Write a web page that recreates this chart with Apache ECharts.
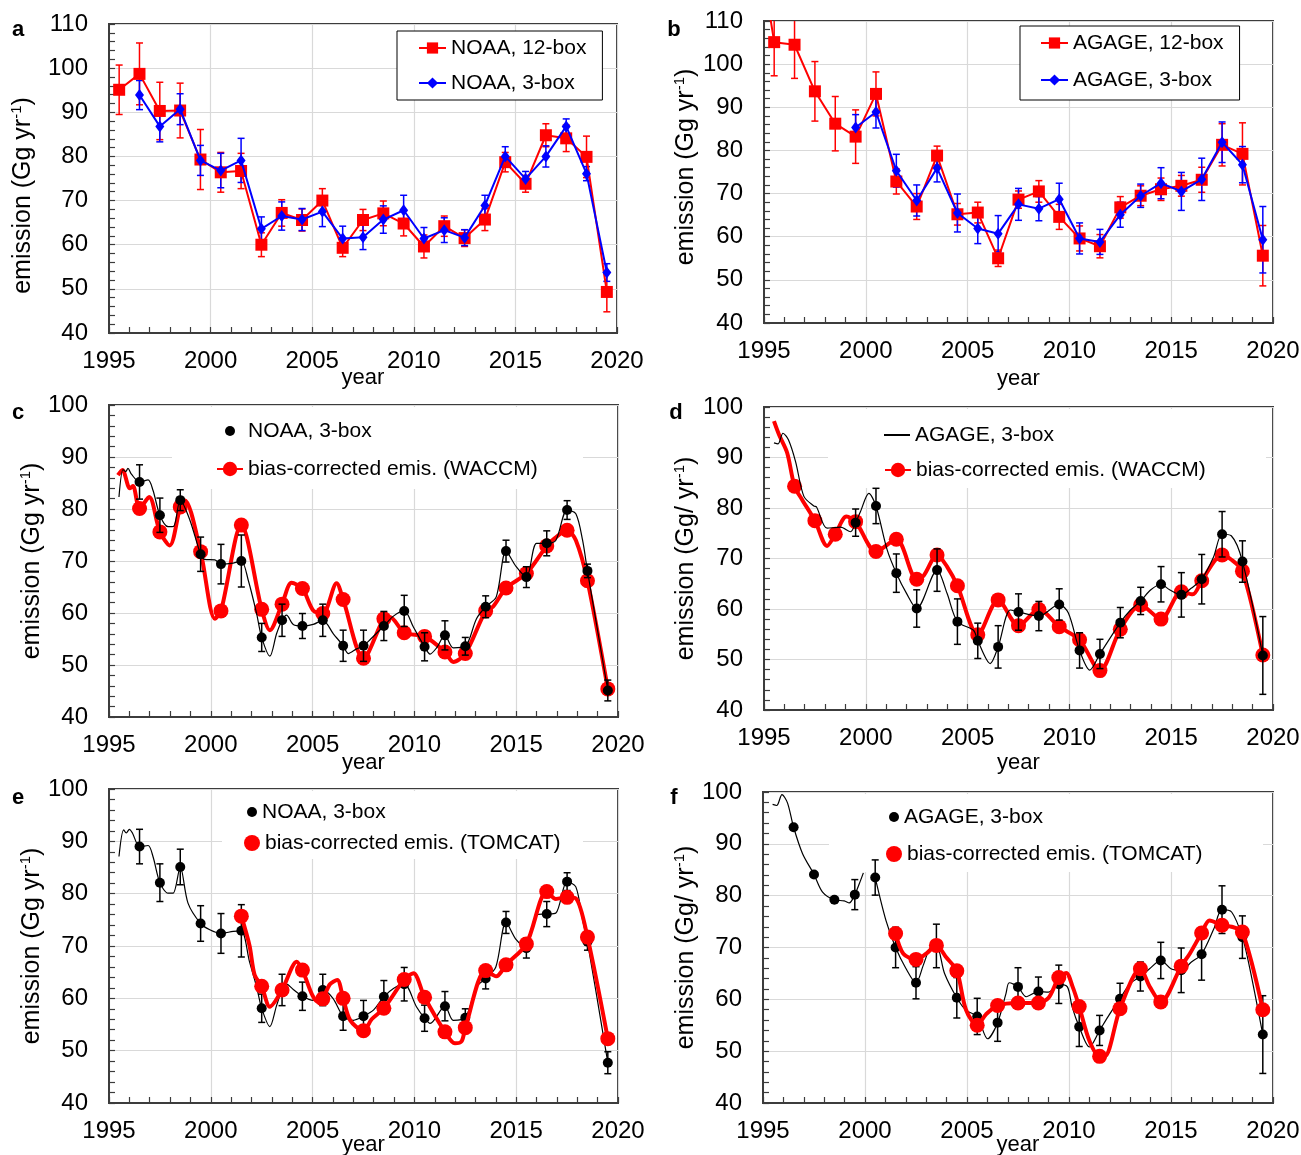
<!DOCTYPE html>
<html>
<head>
<meta charset="utf-8">
<script src="https://cdn.jsdelivr.net/npm/echarts/dist/echarts.min.js"></script>
<style>
  html, body { margin: 0; padding: 0; background: #fff; }
  #chart { width: 1301px; height: 1155px; }
</style>
</head>
<body>
<div id="chart"></div>
<script>
// ---------- data ----------
const midYears = [1995.5, 1996.5, 1997.5, 1998.5, 1999.5, 2000.5, 2001.5, 2002.5, 2003.5, 2004.5,
  2005.5, 2006.5, 2007.5, 2008.5, 2009.5, 2010.5, 2011.5, 2012.5, 2013.5, 2014.5,
  2015.5, 2016.5, 2017.5, 2018.5, 2019.5];

// (a) NOAA inversions
const noaa12 = [95.1, 98.7, 90.3, 90.4, 79.3, 76.4, 76.7, 60.0, 67.2, 65.6, 70.0, 59.3, 65.6, 67.1, 64.8, 59.6, 64.2, 61.5, 65.7, 78.7, 73.8, 84.8, 84.1, 79.9, 49.3];
const noaa12Err = [5.6, 7.0, 6.5, 6.2, 6.8, 4.5, 4.0, 2.7, 3.0, 2.5, 2.7, 2.0, 2.4, 2.8, 2.8, 2.6, 2.3, 1.9, 2.5, 2.2, 1.9, 2.6, 3.0, 4.7, 4.5];
const noaa3 = [null, 93.9, 86.8, 90.7, 79.1, 76.8, 79.1, 63.6, 66.5, 65.7, 67.5, 61.4, 61.7, 65.7, 67.8, 61.4, 63.3, 61.6, 68.9, 80.0, 74.9, 80.0, 86.8, 76.1, 53.7];
const noaa3Err = [null, 3.3, 3.5, 3.5, 3.4, 3.9, 5.0, 2.7, 3.2, 2.5, 3.4, 2.8, 2.8, 3.1, 3.4, 2.5, 2.8, 1.8, 2.3, 2.2, 1.7, 2.4, 1.7, 1.6, 2.0];

// (b) AGAGE inversions (12-box series also has a 1994.5 value above the plotted range)
const agage12Year1994 = 135;
const agage12 = [105.1, 104.5, 93.7, 86.2, 83.2, 93.1, 72.8, 67.0, 78.8, 65.2, 65.6, 55.0, 68.6, 70.5, 64.6, 59.6, 57.8, 66.8, 69.5, 71.0, 71.8, 73.2, 81.3, 79.2, 55.6];
const agage12Err = [7.8, 7.8, 6.9, 6.3, 6.2, 5.1, 2.9, 3.0, 2.2, 2.5, 2.4, 1.9, 2.0, 2.5, 2.9, 2.9, 2.7, 2.5, 2.3, 2.6, 2.4, 2.9, 4.9, 7.2, 7.0];
const agage3 = [null, null, null, null, 85.3, 88.9, 75.3, 68.4, 75.9, 65.5, 61.9, 60.7, 67.5, 66.5, 68.7, 59.6, 58.8, 65.1, 69.5, 72.4, 70.5, 73.3, 81.9, 76.7, 59.3];
const agage3Err = [null, null, null, null, 3.0, 3.7, 3.8, 3.6, 3.2, 4.4, 3.5, 4.2, 3.7, 2.8, 3.7, 3.6, 2.9, 2.9, 2.7, 3.6, 4.4, 4.9, 4.7, 4.2, 7.7];

// (c) NOAA 3-box and WACCM bias-corrected emissions
const cNoaaLine = [[1995.49, 82.3], [1995.69, 87.6], [1995.82, 87.2], [1995.93, 87.8], [1996.1, 86.7], [1996.5, 85.2], [1996.92, 85.6], [1997.16, 83.6], [1997.5, 78.8], [1997.9, 76.6], [1998.18, 76.7], [1998.5, 81.7], [1998.97, 77.9], [1999.5, 71.3], [1999.7, 70.3], [2000.2, 70.2], [2000.5, 69.4], [2001.1, 69.6], [2001.5, 70.0], [2001.84, 66.3], [2002.25, 59.9], [2002.5, 55.3], [2002.9, 51.7], [2003.23, 56.0], [2003.5, 58.6], [2003.72, 59.6], [2004.05, 57.8], [2004.5, 57.5], [2005.03, 57.8], [2005.5, 58.6], [2006.02, 56.0], [2006.5, 53.7], [2006.75, 52.2], [2007.16, 53.1], [2007.5, 53.7], [2007.83, 54.9], [2008.5, 57.5], [2008.97, 59.4], [2009.5, 60.4], [2009.95, 57.3], [2010.5, 53.5], [2010.77, 52.1], [2011.09, 53.3], [2011.5, 55.7], [2011.91, 53.3], [2012.5, 53.6], [2013.05, 58.9], [2013.5, 61.2], [2014.02, 63.1], [2014.5, 71.9], [2015.0, 68.9], [2015.5, 66.9], [2016.0, 73.4], [2016.5, 73.4], [2016.95, 74.0], [2017.5, 79.8], [2017.93, 79.1], [2018.26, 74.0], [2018.5, 68.1], [2019.5, 45.1]];
const cNoaaErr = [null, 3.3, 3.3, 2.0, 3.3, 3.8, 5.0, 2.7, 3.1, 2.4, 3.1, 3.0, 3.0, 2.8, 3.0, 2.7, 2.8, 1.7, 2.1, 2.1, 2.0, 2.4, 1.8, 1.3, 2.0];
const cWaccmLine = [[1995.44, 86.5], [1995.66, 87.5], [1996.02, 84.0], [1996.18, 84.4], [1996.5, 80.1], [1996.97, 82.3], [1997.5, 75.6], [1997.98, 73.0], [1998.5, 80.4], [1998.72, 81.7], [1999.5, 71.8], [2000.2, 58.9], [2000.5, 60.4], [2001.5, 76.9], [2002.5, 60.7], [2002.9, 56.7], [2003.5, 61.7], [2003.97, 65.8], [2004.5, 64.7], [2005.03, 60.5], [2005.5, 59.9], [2006.18, 65.7], [2006.5, 62.6], [2007.5, 51.3], [2008.5, 58.9], [2008.81, 59.2], [2009.5, 56.2], [2010.5, 55.5], [2011.5, 52.5], [2011.91, 50.6], [2012.5, 52.2], [2013.5, 60.4], [2013.86, 61.2], [2014.5, 64.8], [2015.5, 67.6], [2016.5, 72.9], [2016.87, 74.3], [2017.5, 75.9], [2017.93, 74.0], [2018.5, 66.2], [2019.5, 45.4]];

// (d) AGAGE 3-box and WACCM bias-corrected emissions
const dAgageLine = [[1995.49, 92.9], [1995.69, 92.7], [1995.93, 94.8], [1996.2, 93.5], [1996.55, 89.2], [1996.96, 82.3], [1997.45, 80.4], [1997.58, 80.2], [1998.1, 76.0], [1998.76, 76.2], [1999.25, 75.3], [1999.5, 77.1], [1999.73, 79.2], [2000.15, 82.9], [2000.5, 80.4], [2001.05, 71.7], [2001.5, 67.1], [2002.0, 63.1], [2002.5, 60.1], [2003.5, 67.7], [2003.99, 63.1], [2004.5, 57.5], [2005.29, 55.8], [2005.5, 53.7], [2006.11, 49.2], [2006.5, 52.5], [2007.1, 59.8], [2007.5, 59.4], [2008.5, 58.6], [2009.5, 60.9], [2009.95, 59.2], [2010.5, 51.8], [2011.0, 47.9], [2011.5, 51.1], [2012.5, 57.3], [2012.98, 59.7], [2013.5, 61.6], [2014.0, 63.8], [2014.5, 64.9], [2014.92, 63.8], [2015.5, 62.8], [2015.98, 64.1], [2016.5, 65.9], [2017.08, 70.3], [2017.5, 74.8], [2017.95, 74.5], [2018.5, 69.4], [2019.5, 50.8]];
const dAgageErr = [null, null, null, null, 2.7, 3.5, 3.8, 3.7, 4.2, 4.5, 3.5, 4.2, 3.6, 2.9, 3.1, 3.5, 2.9, 3.0, 2.7, 3.5, 4.4, 4.9, 4.5, 4.1, 7.7];
const dWaccmLine = [[1995.49, 97.2], [1995.74, 94.5], [1996.14, 90.9], [1996.5, 84.3], [1996.88, 81.6], [1997.5, 77.5], [1998.1, 72.5], [1998.5, 74.8], [1999.05, 78.3], [1999.5, 77.3], [2000.5, 71.4], [2001.5, 73.8], [2002.5, 65.9], [2002.84, 66.6], [2003.5, 70.7], [2003.99, 68.4], [2004.5, 64.6], [2005.5, 54.9], [2006.5, 61.8], [2007.5, 56.7], [2008.5, 59.9], [2009.5, 56.5], [2010.5, 53.9], [2011.5, 47.8], [2012.5, 56.0], [2013.5, 60.8], [2014.5, 58.0], [2015.5, 63.4], [2016.06, 62.9], [2016.5, 65.6], [2017.5, 70.7], [2017.94, 69.8], [2018.5, 67.5], [2019.5, 50.9]];

// (e) NOAA 3-box and TOMCAT bias-corrected emissions
const eNoaaLine = [[1995.49, 87.1], [1995.72, 92.2], [1995.85, 91.6], [1996.0, 92.3], [1996.15, 91.6], [1996.5, 89.0], [1996.92, 89.2], [1997.16, 87.1], [1997.5, 82.1], [1997.9, 80.1], [1998.15, 80.1], [1998.5, 85.1], [1998.88, 78.2], [1999.5, 74.3], [1999.95, 73.1], [2000.5, 72.4], [2001.1, 72.8], [2001.5, 72.9], [2001.9, 67.0], [2002.25, 62.2], [2002.5, 58.1], [2002.9, 54.6], [2003.23, 58.6], [2003.5, 61.6], [2003.72, 62.7], [2004.05, 61.7], [2004.5, 60.4], [2005.03, 59.6], [2005.5, 61.6], [2006.0, 60.0], [2006.5, 56.6], [2007.0, 55.8], [2007.5, 56.6], [2008.0, 57.8], [2008.5, 60.3], [2008.97, 61.9], [2009.5, 62.7], [2010.1, 58.4], [2010.5, 56.2], [2010.77, 55.2], [2011.5, 58.5], [2011.91, 55.8], [2012.5, 56.3], [2013.05, 62.2], [2013.5, 63.8], [2014.0, 66.0], [2014.5, 74.5], [2015.0, 71.2], [2015.5, 69.6], [2016.0, 76.0], [2016.5, 76.1], [2016.95, 76.3], [2017.5, 82.3], [2017.93, 81.3], [2018.26, 75.0], [2018.5, 70.8], [2019.5, 47.7]];
const eNoaaErr = [null, 3.3, 3.6, 3.4, 3.4, 3.8, 5.0, 2.7, 3.0, 2.7, 3.0, 2.7, 3.0, 3.1, 3.2, 2.5, 2.8, 1.7, 2.0, 2.1, 1.9, 2.4, 1.7, 1.6, 2.1];
const eTomcatLine = [[2001.5, 75.7], [2001.9, 70.1], [2002.15, 64.5], [2002.5, 62.3], [2002.9, 58.4], [2003.5, 61.6], [2004.0, 66.0], [2004.21, 67.0], [2004.5, 65.4], [2005.0, 60.5], [2005.28, 59.3], [2005.5, 59.9], [2005.85, 62.7], [2006.21, 63.5], [2006.5, 60.0], [2006.85, 55.8], [2007.5, 53.8], [2007.9, 56.0], [2008.5, 58.1], [2009.5, 63.6], [2009.95, 64.8], [2010.5, 60.2], [2011.5, 53.6], [2011.99, 51.4], [2012.32, 51.8], [2012.5, 54.4], [2013.5, 65.3], [2014.02, 64.2], [2014.5, 66.4], [2015.5, 70.4], [2016.5, 80.4], [2016.95, 79.0], [2017.5, 79.3], [2017.93, 79.1], [2018.5, 71.7], [2019.5, 52.3]];

// (f) AGAGE 3-box (gap around 2000) and TOMCAT bias-corrected emissions
const fAgageLine = [[1995.47, 97.6], [1995.67, 97.4], [1995.93, 99.5], [1996.2, 97.9], [1996.5, 93.2], [1996.94, 88.1], [1997.5, 84.1], [1997.92, 80.7], [1998.5, 79.2], [1998.98, 79.0], [1999.23, 78.6], [1999.5, 80.2], [1999.72, 82.3], [1999.92, 84.4], null, [2000.5, 83.5], [2001.03, 75.2], [2001.5, 70.0], [2002.0, 66.0], [2002.5, 63.2], [2002.85, 66.5], [2003.2, 70.0], [2003.5, 70.3], [2003.9, 65.0], [2004.5, 60.3], [2004.95, 57.9], [2005.5, 56.7], [2006.01, 52.4], [2006.5, 55.5], [2006.91, 61.1], [2007.07, 63.2], [2007.5, 62.4], [2007.9, 60.5], [2008.5, 61.5], [2009.0, 61.4], [2009.5, 62.9], [2009.92, 62.4], [2010.15, 58.6], [2010.5, 54.7], [2011.0, 50.8], [2011.5, 54.0], [2012.0, 57.2], [2012.5, 60.1], [2012.98, 63.0], [2013.5, 64.4], [2013.95, 65.9], [2014.5, 67.5], [2015.0, 65.9], [2015.5, 65.6], [2016.0, 67.2], [2016.5, 68.7], [2017.1, 73.6], [2017.5, 77.3], [2017.98, 76.8], [2018.5, 72.0], [2018.85, 66.2], [2019.5, 53.2]];
const fAgageErr = [null, null, null, null, 2.9, 3.4, 3.9, 3.1, 4.2, 3.9, 3.5, 3.6, 3.7, 2.8, 3.7, 3.8, 2.9, 3.0, 2.8, 3.5, 4.3, 5.0, 4.6, 4.1, 7.5];
const fTomcatLine = [[2001.5, 72.7], [2001.88, 68.8], [2002.5, 67.7], [2003.0, 68.8], [2003.5, 70.4], [2003.98, 68.1], [2004.5, 65.5], [2004.95, 58.0], [2005.5, 55.0], [2005.93, 57.1], [2006.5, 58.8], [2007.5, 59.3], [2008.5, 59.3], [2009.0, 60.3], [2009.5, 64.2], [2009.86, 65.1], [2010.18, 62.4], [2010.5, 58.6], [2011.0, 52.0], [2011.5, 49.0], [2011.75, 49.0], [2012.5, 58.2], [2013.5, 65.9], [2013.96, 62.4], [2014.5, 59.5], [2015.5, 66.4], [2015.92, 68.8], [2016.5, 72.8], [2016.89, 75.2], [2017.5, 74.3], [2017.97, 74.0], [2018.5, 73.0], [2019.5, 58.0]];

// ---------- styling helpers ----------
const FONT = '"Liberation Sans", Arial, Helvetica, sans-serif';
const RED = '#ff0000', BLUE = '#0000ff', BLACK = '#000000';
const AXIS = '#3c3c3c';

const grids = [
  { left: 109, top: 24, width: 508, height: 309 },
  { left: 764, top: 21, width: 509, height: 302 },
  { left: 109, top: 405, width: 509, height: 312 },
  { left: 764, top: 407, width: 509, height: 303 },
  { left: 109, top: 789, width: 509, height: 314 },
  { left: 763, top: 792, width: 510, height: 311 }
].map(g => Object.assign({
  show: true, borderColor: AXIS, borderWidth: 2, backgroundColor: 'transparent',
  containLabel: false, outerBoundsMode: 'none'
}, g));

const xNameGaps = [34, 45, 35, 42, 31, 31];
const yNameGaps = [72, 64, 63, 64, 63, 63];
// shift of the y-axis title along the axis (text-frame padding right/left)
const yNamePads = [[0, 34, 0, 0], [0, 0, 0, 10], [0, 0, 0, 0], [0, 0, 0, 0], [0, 0, 0, 0], [0, 0, 0, 0]];
const yMaxes = [110, 110, 100, 100, 100, 100];
const yNames = [
  '{n|emission (Gg yr}{s|-1}{n|)}', '{n|emission (Gg yr}{s|-1}{n|)}',
  '{n|emission (Gg yr}{s|-1}{n|)}', '{n|emission (Gg/ yr}{s|-1}{n|)}',
  '{n|emission (Gg yr}{s|-1}{n|)}', '{n|emission (Gg/ yr}{s|-1}{n|)}'
];

const tickStyle = { color: AXIS, width: 1.2 };

const xAxes = grids.map((g, k) => ({
  gridIndex: k, type: 'value', min: 1995, max: 2020, interval: 5,
  name: 'year', nameLocation: 'middle', nameGap: xNameGaps[k], nameMoveOverlap: false,
  nameTextStyle: { fontSize: 22, color: '#000', fontFamily: FONT },
  axisLine: { show: true, onZero: false, lineStyle: { color: AXIS, width: 2 } },
  axisTick: { show: true, inside: true, length: 6, lineStyle: tickStyle },
  minorTick: { show: true, splitNumber: 5, length: 6, lineStyle: tickStyle },
  splitLine: { show: true, lineStyle: { color: '#d9d9d9', width: 1.2 } },
  minorSplitLine: { show: false },
  axisLabel: { fontSize: 24, color: '#000', fontFamily: FONT, margin: 16, formatter: v => String(v) }
}));

const yAxes = grids.map((g, k) => ({
  gridIndex: k, type: 'value', min: 40, max: yMaxes[k], interval: 10,
  name: yNames[k], nameLocation: 'middle', nameGap: yNameGaps[k], nameRotate: 90, nameMoveOverlap: false,
  nameTextStyle: {
    fontSize: 25, color: '#000', fontFamily: FONT, padding: yNamePads[k],
    rich: {
      n: { fontSize: 25, color: '#000', fontFamily: FONT, lineHeight: 28 },
      s: { fontSize: 15, color: '#000', fontFamily: FONT, verticalAlign: 'top', lineHeight: 28 }
    }
  },
  axisLine: { show: true, onZero: false, lineStyle: { color: AXIS, width: 2 } },
  axisTick: { show: true, inside: true, length: 6, lineStyle: tickStyle },
  minorTick: { show: true, splitNumber: 5, length: 6, lineStyle: tickStyle },
  splitLine: { show: true, lineStyle: { color: '#d9d9d9', width: 1.2 } },
  axisLabel: { fontSize: 24, color: '#000', fontFamily: FONT, margin: 21 }
}));

// ---------- series builders ----------
function isMid(x) { return Math.abs(x - Math.floor(x) - 0.5) < 1e-6; }

function seriesPoints(values, lead) {
  const pts = lead ? [lead] : [];
  midYears.forEach((x, i) => { if (values[i] != null) pts.push([x, values[i]]); });
  return pts;
}

// dense curve; yearly points from dotFrom onward carry a marker
function curveData(pts, dotFrom, size) {
  return pts.map(p => {
    if (p === null) return { value: ['-', '-'], symbol: 'none' };
    const dot = dotFrom != null && isMid(p[0]) && p[0] >= dotFrom - 1e-6;
    return dot ? { value: p, symbolSize: size } : { value: p, symbol: 'none' };
  });
}

function errData(pts, errs) {
  const out = [];
  midYears.forEach((yr, i) => {
    const e = errs[i];
    if (e == null) return;
    const p = pts.find(q => q && Math.abs(q[0] - yr) < 1e-6);
    if (p) out.push([yr, p[1] - e, p[1] + e]);
  });
  return out;
}

function errSeries(k, data, color, z) {
  return {
    type: 'custom', xAxisIndex: k, yAxisIndex: k, data, clip: true, silent: true, z,
    encode: { x: 0, y: [1, 2] },
    renderItem: (params, api) => {
      const x = api.value(0);
      const top = api.coord([x, api.value(2)]);
      const bot = api.coord([x, api.value(1)]);
      const w = 3.5;
      const style = { stroke: color, lineWidth: 1.5, fill: null };
      return {
        type: 'group', children: [
          { type: 'line', shape: { x1: top[0], y1: top[1], x2: bot[0], y2: bot[1] }, style },
          { type: 'line', shape: { x1: top[0] - w, y1: top[1], x2: top[0] + w, y2: top[1] }, style },
          { type: 'line', shape: { x1: bot[0] - w, y1: bot[1], x2: bot[0] + w, y2: bot[1] }, style }
        ]
      };
    }
  };
}

function markedLine(k, name, pts, color, opt) {
  return {
    type: 'line', name, xAxisIndex: k, yAxisIndex: k,
    data: opt.dense ? curveData(pts, opt.dotFrom, opt.size) : pts,
    symbol: opt.symbol || 'circle', symbolSize: opt.size, showSymbol: true,
    smooth: opt.dense ? 0.3 : false, connectNulls: false, clip: true,
    lineStyle: { color, width: opt.width }, itemStyle: { color, borderWidth: 0 },
    emphasis: { disabled: true }, z: opt.z, animation: false
  };
}

// ---------- series ----------
const aRed = seriesPoints(noaa12), aBlue = seriesPoints(noaa3);
const bRed = seriesPoints(agage12, [1994.5, agage12Year1994]), bBlue = seriesPoints(agage3);

const series = [
  // a
  errSeries(0, errData(aRed, noaa12Err), RED, 2),
  errSeries(0, errData(aBlue, noaa3Err), BLUE, 2),
  markedLine(0, 'a12', aRed, RED, { symbol: 'rect', size: 12, width: 2, z: 3 }),
  markedLine(0, 'a3', aBlue, BLUE, { symbol: 'diamond', size: [9, 12], width: 2, z: 4 }),
  // b
  errSeries(1, errData(bRed, agage12Err), RED, 2),
  errSeries(1, errData(bBlue, agage3Err), BLUE, 2),
  markedLine(1, 'b12', bRed, RED, { symbol: 'rect', size: 12, width: 2, z: 3 }),
  markedLine(1, 'b3', bBlue, BLUE, { symbol: 'diamond', size: [9, 12], width: 2, z: 4 }),
  // c
  markedLine(2, 'cW', cWaccmLine, RED, { dense: true, dotFrom: 1996.5, size: 15, width: 4, z: 3 }),
  errSeries(2, errData(cNoaaLine, cNoaaErr), BLACK, 4),
  markedLine(2, 'cN', cNoaaLine, BLACK, { dense: true, dotFrom: 1996.5, size: 10, width: 1.2, z: 5 }),
  // d
  markedLine(3, 'dW', dWaccmLine, RED, { dense: true, dotFrom: 1996.5, size: 15, width: 4, z: 3 }),
  errSeries(3, errData(dAgageLine, dAgageErr), BLACK, 4),
  markedLine(3, 'dA', dAgageLine, BLACK, { dense: true, dotFrom: 1999.5, size: 10, width: 1.2, z: 5 }),
  // e
  errSeries(4, errData(eNoaaLine, eNoaaErr), BLACK, 2),
  markedLine(4, 'eN', eNoaaLine, BLACK, { dense: true, dotFrom: 1996.5, size: 10, width: 1.2, z: 3 }),
  markedLine(4, 'eT', eTomcatLine, RED, { dense: true, dotFrom: 2001.5, size: 15, width: 4, z: 5 }),
  // f
  errSeries(5, errData(fAgageLine, fAgageErr), BLACK, 2),
  markedLine(5, 'fA', fAgageLine, BLACK, { dense: true, dotFrom: 1996.5, size: 10, width: 1.2, z: 3 }),
  markedLine(5, 'fT', fTomcatLine, RED, { dense: true, dotFrom: 2001.5, size: 15, width: 4, z: 5 })
];

// ---------- legends ----------
const legendText = {
  a12: 'NOAA, 12-box', a3: 'NOAA, 3-box',
  b12: 'AGAGE, 12-box', b3: 'AGAGE, 3-box',
  cN: 'NOAA, 3-box', cW: 'bias-corrected emis. (WACCM)',
  dA: 'AGAGE, 3-box', dW: 'bias-corrected emis. (WACCM)',
  eN: 'NOAA, 3-box', eT: 'bias-corrected emis. (TOMCAT)',
  fA: 'AGAGE, 3-box', fT: 'bias-corrected emis. (TOMCAT)'
};
const legendTextStyle = { fontSize: 21, color: '#000', fontFamily: FONT, lineHeight: 24 };

function boxedLegend(names, left, top, itemGap, padding) {
  return {
    orient: 'vertical', left, top, itemGap, padding,
    itemWidth: 27, itemHeight: 14, selectedMode: false,
    backgroundColor: '#fff', borderColor: '#000', borderWidth: 1,
    data: names, formatter: n => legendText[n], textStyle: legendTextStyle
  };
}
function singleLegend(name, left, top, iw, ih, icon) {
  const item = icon ? { name, icon } : { name };
  return {
    left, top, padding: 0, itemWidth: iw, itemHeight: ih, selectedMode: false,
    data: [item], formatter: n => legendText[n], textStyle: legendTextStyle
  };
}

const legends = [
  boxedLegend(['a12', 'a3'], 397, 31, 11, [5, 16, 5, 21]),
  boxedLegend(['b12', 'b3'], 1020, 26, 13, [5, 16, 8, 20]),
  singleLegend('cN', 225, 419, 26, 10, 'circle'),
  singleLegend('cW', 216, 457, 26, 18),
  singleLegend('dA', 884, 423, 26, 2, 'rect'),
  singleLegend('dW', 884, 458, 26, 18),
  singleLegend('eN', 247, 800, 10, 10, 'circle'),
  singleLegend('eT', 244, 831, 16, 16, 'circle'),
  singleLegend('fA', 889, 805, 10, 10, 'circle'),
  singleLegend('fT', 886, 842, 16, 16, 'circle')
];

// white areas behind the unboxed legends, plus the panel letters
const legendBacks = [
  [172, 407, 411, 82], [828, 409, 438, 79], [222, 791, 361, 68], [829, 794, 434, 78]
].map(r => ({ type: 'rect', z: 1, silent: true, shape: { x: r[0], y: r[1], width: r[2], height: r[3] }, style: { fill: '#fff' } }));

const letters = [['a', 18, 30], ['b', 674, 30], ['c', 18, 413], ['d', 676, 413], ['e', 18, 798], ['f', 674, 798]]
  .map(l => ({
    type: 'text', z: 10, x: l[1], y: l[2], silent: true,
    style: { text: l[0], font: 'bold 22px ' + FONT, fill: '#000', align: 'center', verticalAlign: 'middle', textAlign: 'center', textVerticalAlign: 'middle' }
  }));

const chart = echarts.init(document.getElementById('chart'), null, { renderer: 'canvas' });
chart.setOption({
  animation: false,
  backgroundColor: '#fff',
  textStyle: { fontFamily: FONT },
  grid: grids,
  xAxis: xAxes,
  yAxis: yAxes,
  legend: legends,
  graphic: { elements: legendBacks.concat(letters) },
  series
});
</script>
</body>
</html>
